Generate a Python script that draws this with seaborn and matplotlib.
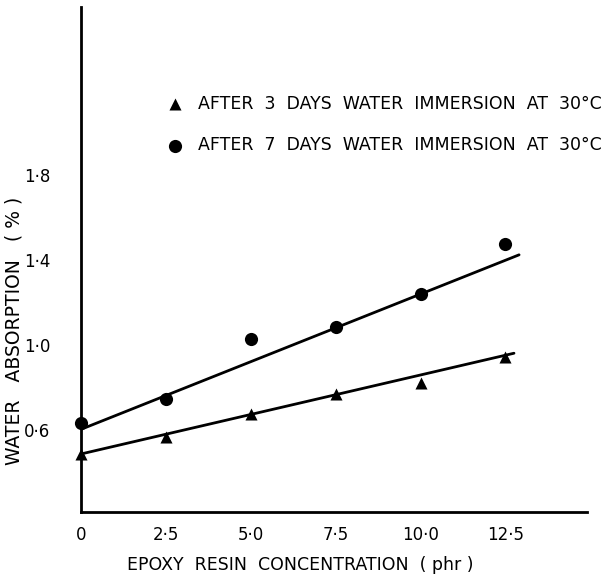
import matplotlib
matplotlib.use("Agg")
import matplotlib.pyplot as plt
import seaborn as sns
import pandas as pd

# Data
concentration = [0, 2.5, 5.0, 7.5, 10.0, 12.5]
absorption_3days = [0.487, 0.566, 0.674, 0.769, 0.820, 0.942]
absorption_7days = [0.634, 0.746, 1.027, 1.083, 1.239, 1.474]

# Fitted straight lines as drawn (end points)
fit3_x = [0, 12.75]
fit3_y = [0.487, 0.961]
fit7_x = [0, 12.9]
fit7_y = [0.603, 1.424]

x_ticks = [0, 2.5, 5.0, 7.5, 10.0, 12.5]
x_ticklabels = ["0", "2·5", "5·0", "7·5", "10·0", "12·5"]
y_ticks = [0.6, 1.0, 1.4, 1.8]
y_ticklabels = ["0·6", "1·0", "1·4", "1·8"]

label3 = "AFTER  3  DAYS  WATER  IMMERSION  AT  30°C"
label7 = "AFTER  7  DAYS  WATER  IMMERSION  AT  30°C"

sns.set_theme(style="white")
plt.rcParams['font.family'] = ['DejaVu Sans']
plt.rcParams['text.color'] = 'black'
plt.rcParams['axes.labelcolor'] = 'black'
plt.rcParams['xtick.color'] = 'black'
plt.rcParams['ytick.color'] = 'black'

fig = plt.figure(figsize=(6.08, 5.76), dpi=100)
ax = fig.add_axes([81/608, 1-512/576, (587-81)/608, (512-7)/576])

df3 = pd.DataFrame({"x": concentration, "y": absorption_3days})
df7 = pd.DataFrame({"x": concentration, "y": absorption_7days})

sns.lineplot(x=fit7_x, y=fit7_y, ax=ax, color="black", lw=2.0)
sns.lineplot(x=fit3_x, y=fit3_y, ax=ax, color="black", lw=2.0)
sns.scatterplot(data=df3, x="x", y="y", ax=ax, marker="^", s=75, color="black",
                edgecolor="black", linewidth=0, label=label3, zorder=5, clip_on=False)
sns.scatterplot(data=df7, x="x", y="y", ax=ax, marker="o", s=90, color="black",
                edgecolor="black", linewidth=0, label=label7, zorder=5, clip_on=False)

ax.set_xlim(0, 14.9)
ax.set_ylim(0.214, 2.59)

ax.set_xticks(x_ticks)
ax.set_xticklabels(x_ticklabels, fontsize=12)
ax.set_yticks(y_ticks)
ax.set_yticklabels(y_ticklabels, fontsize=12)
ax.tick_params(axis="both", direction="in", length=5, width=1.2, color="black",
               labelcolor="black")
ax.tick_params(axis="x", pad=10)
ax.tick_params(axis="y", pad=22)

for side in ["top", "right"]:
    ax.spines[side].set_visible(False)
for side in ["left", "bottom"]:
    ax.spines[side].set_color("black")
    ax.spines[side].set_linewidth(2.0)

ax.set_xlabel("EPOXY  RESIN  CONCENTRATION  ( phr )", fontsize=12.5)
ax.xaxis.set_label_coords((300-81)/506, (512-556)/505)
ax.set_ylabel("WATER   ABSORPTION   ( % )", fontsize=13.5)
ax.yaxis.set_label_coords((24-81)/506, (512-331)/505)

leg = ax.legend(loc="upper left", bbox_to_anchor=(158/608, 1-86/576),
                bbox_transform=fig.transFigure, frameon=False, fontsize=12.5,
                handlelength=1.0, handletextpad=0.8, labelspacing=1.35,
                borderpad=0, markerscale=1.0)

fig.savefig("out.png", dpi=100)
